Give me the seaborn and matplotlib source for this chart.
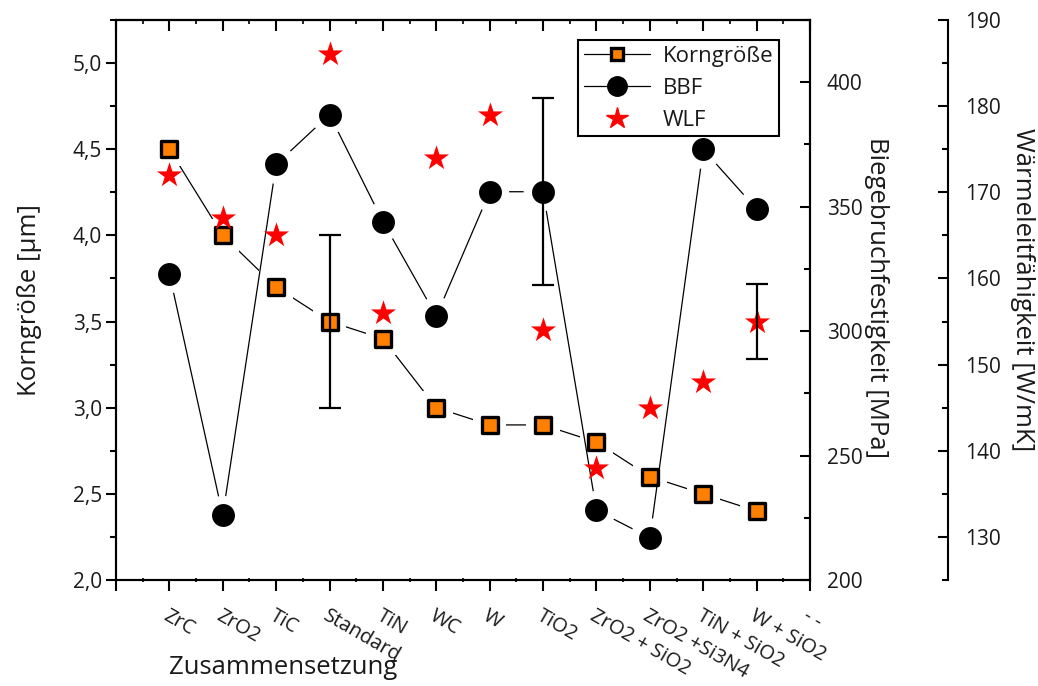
import numpy as np
import pandas as pd
import matplotlib
matplotlib.use("Agg")
import matplotlib.pyplot as plt
from matplotlib.lines import Line2D
from matplotlib.ticker import MultipleLocator, FuncFormatter
import seaborn as sns

# ---- data -------------------------------------------------------------
categories = ["ZrC", "ZrO2", "TiC", "Standard", "TiN", "WC", "W", "TiO2",
              "ZrO2 + SiO2", "ZrO2 +Si3N4", "TiN + SiO2", "W + SiO2"]
korngroesse = [4.5, 4.0, 3.7, 3.5, 3.4, 3.0, 2.9, 2.9, 2.8, 2.6, 2.5, 2.4]
korngroesse_err = [0, 0, 0, 0.5, 0, 0, 0, 0, 0, 0, 0, 0]
bbf = [323, 226, 367, 387, 344, 306, 356, 356, 228, 217, 373, 349]
bbf_err = [0, 0, 0, 0, 0, 0, 0, 37.5, 0, 0, 0, 0]
wlf = [172, 167, 165, 186, 156, 174, 179, 154, 138, 145, 148, 155]
wlf_err = [0, 0, 0, 0, 0, 0, 0, 0, 0, 0, 0, 4.3]
tick_labels = [""] + categories + ["- -"]

df = pd.DataFrame({
    "pos": np.arange(1, len(categories) + 1),
    "kg": korngroesse, "kg_err": korngroesse_err,
    "bbf": bbf, "bbf_err": bbf_err,
    "wlf": wlf, "wlf_err": wlf_err,
})

# ---- style ------------------------------------------------------------
sns.set_theme(style="white")
plt.rcParams["font.family"] = ["Open Sans", "DejaVu Sans"]
plt.rcParams["axes.linewidth"] = 1.5
plt.rcParams["text.color"] = "#1a1a1a"
plt.rcParams["axes.labelcolor"] = "#1a1a1a"
plt.rcParams["xtick.color"] = "black"
plt.rcParams["ytick.color"] = "black"
plt.rcParams["xtick.labelcolor"] = "#1a1a1a"
plt.rcParams["ytick.labelcolor"] = "#1a1a1a"

ORANGE = "#ff8000"
YTICK_FS = 15
XTICK_FS = 14.5
LABEL_FS = 18.5

fig = plt.figure(figsize=(10.38, 6.86), dpi=100)
ax = fig.add_axes([116 / 1038, 1 - 580 / 686, 694 / 1038, 560 / 686])
ax2 = ax.twinx()
ax3 = ax.twinx()
for a in (ax, ax2, ax3):
    a.set_facecolor("none")
    for s in a.spines.values():
        s.set_linewidth(1.5)
        s.set_color("black")

# ---- Korngröße (left axis) --------------------------------------------
sns.lineplot(data=df, x="pos", y="kg", ax=ax, color="black", linewidth=0.9,
             sort=False, zorder=2)
sns.scatterplot(data=df, x="pos", y="kg", ax=ax, marker="s", s=24 ** 2,
                color="white", edgecolor="none", linewidth=0, zorder=3)
sns.scatterplot(data=df, x="pos", y="kg", ax=ax, marker="s", s=12 ** 2,
                color=ORANGE, edgecolor="black", linewidth=2.4, zorder=4)
kg_e = df[df["kg_err"] > 0]
ax.errorbar(kg_e["pos"], kg_e["kg"], yerr=kg_e["kg_err"], fmt="none",
            ecolor="black", elinewidth=1.6, capsize=8, capthick=1.6, zorder=5)

ax.set_xlim(0, 13)
ax.set_ylim(2.0, 5.25)
ax.set_xticks(np.arange(0, 14))
ax.set_xticklabels(tick_labels, rotation=-30, ha="left", va="top",
                   rotation_mode="anchor", fontsize=XTICK_FS)
ax.xaxis.set_minor_locator(MultipleLocator(0.5))
ax.yaxis.set_major_locator(MultipleLocator(0.5))
ax.yaxis.set_minor_locator(MultipleLocator(0.25))
ax.yaxis.set_major_formatter(FuncFormatter(lambda v, p: f"{v:.1f}".replace(".", ",")))
ax.tick_params(axis="y", which="major", direction="out", length=7, width=1.5,
               labelsize=YTICK_FS, left=True, right=False, pad=3)
ax.tick_params(axis="y", which="minor", direction="out", length=4, width=1.5,
               left=True, right=False)
ax.tick_params(axis="x", which="major", direction="out", length=8, width=1.5,
               bottom=True, top=False, pad=11)
ax.tick_params(axis="x", which="minor", direction="inout", length=3, width=1.2,
               bottom=True, top=False)
ax.set_xlabel("")
ax.set_ylabel("")

# mirrored ticks on the top edge, pointing into the plot
top = ax.secondary_xaxis("top")
top.set_xticks(np.arange(0, 14))
top.xaxis.set_minor_locator(MultipleLocator(0.5))
top.tick_params(axis="x", which="major", direction="in", length=8, width=1.5,
                labeltop=False)
top.tick_params(axis="x", which="minor", direction="in", length=3, width=1.2)
top.spines["top"].set_linewidth(1.5)

# ---- BBF (first right axis) -------------------------------------------
sns.lineplot(data=df, x="pos", y="bbf", ax=ax2, color="black", linewidth=0.9,
             sort=False, zorder=2)
sns.scatterplot(data=df, x="pos", y="bbf", ax=ax2, marker="o", s=28 ** 2,
                color="white", edgecolor="none", linewidth=0, zorder=3)
sns.scatterplot(data=df, x="pos", y="bbf", ax=ax2, marker="o", s=16.5 ** 2,
                color="black", edgecolor="black", linewidth=0, zorder=4)
bbf_e = df[df["bbf_err"] > 0]
ax2.errorbar(bbf_e["pos"], bbf_e["bbf"], yerr=bbf_e["bbf_err"], fmt="none",
             ecolor="black", elinewidth=1.6, capsize=8, capthick=1.6, zorder=5)
ax2.set_ylim(200, 425)
ax2.yaxis.set_major_locator(MultipleLocator(50))
ax2.yaxis.set_minor_locator(MultipleLocator(25))
ax2.tick_params(axis="y", which="major", direction="in", length=7, width=1.5,
                labelsize=YTICK_FS, pad=12)
ax2.tick_params(axis="y", which="minor", direction="in", length=4, width=1.5)
ax2.set_ylabel("")
ax2.set_xlabel("")

# ---- WLF (second right axis) ------------------------------------------
ax3.spines["right"].set_position(("axes", (948 - 116) / 694))
for side in ("left", "top", "bottom"):
    ax3.spines[side].set_visible(False)
sns.scatterplot(data=df, x="pos", y="wlf", ax=ax3, marker="*", s=19 ** 2,
                color="red", edgecolor="red", linewidth=0, zorder=4)
wlf_e = df[df["wlf_err"] > 0]
ax3.errorbar(wlf_e["pos"], wlf_e["wlf"], yerr=wlf_e["wlf_err"], fmt="none",
             ecolor="black", elinewidth=1.6, capsize=8, capthick=1.6, zorder=5)
ax3.set_ylim(125, 190)
ax3.yaxis.set_major_locator(MultipleLocator(10))
ax3.yaxis.set_minor_locator(MultipleLocator(5))
ax3.tick_params(axis="y", which="major", direction="in", length=7, width=1.5,
                labelsize=YTICK_FS, pad=12)
ax3.tick_params(axis="y", which="minor", direction="in", length=4, width=1.5)
ax3.set_ylabel("")
ax3.set_xlabel("")

# ---- axis titles ------------------------------------------------------
fig.text(30 / 1038, 1 - 300 / 686, "Korngröße [µm]", rotation=90,
         ha="center", va="center", fontsize=LABEL_FS)
fig.text(877 / 1038, 1 - 298 / 686, "Biegebruchfestigkeit [MPa]", rotation=-90,
         ha="center", va="center", fontsize=LABEL_FS)
fig.text(1022 / 1038, 1 - 290 / 686, "Wärmeleitfähigkeit [W/mK]", rotation=-90,
         ha="center", va="center", fontsize=LABEL_FS)
fig.text(283 / 1038, 1 - 668 / 686, "Zusammensetzung", ha="center",
         va="center", fontsize=LABEL_FS)

# ---- legend -----------------------------------------------------------
handles = [
    Line2D([], [], color="black", linewidth=0.9, marker="s", markersize=8,
           markerfacecolor=ORANGE, markeredgecolor="black", markeredgewidth=2.4),
    Line2D([], [], color="black", linewidth=0.9, marker="o", markersize=14,
           markerfacecolor="black", markeredgecolor="black"),
    Line2D([], [], color="none", marker="*", markersize=16,
           markerfacecolor="red", markeredgecolor="red"),
]
leg = ax3.legend(handles, ["Korngröße", "BBF", "WLF"], loc="upper right",
                 bbox_to_anchor=(0.955, 0.964), fontsize=16, frameon=True,
                 fancybox=False, edgecolor="black", framealpha=1,
                 handlelength=3.0, handletextpad=0.55, borderpad=0.25,
                 labelspacing=0.5, borderaxespad=0)
leg.get_frame().set_linewidth(1.5)
leg.set_zorder(10)

fig.savefig("out.png", dpi=100)
